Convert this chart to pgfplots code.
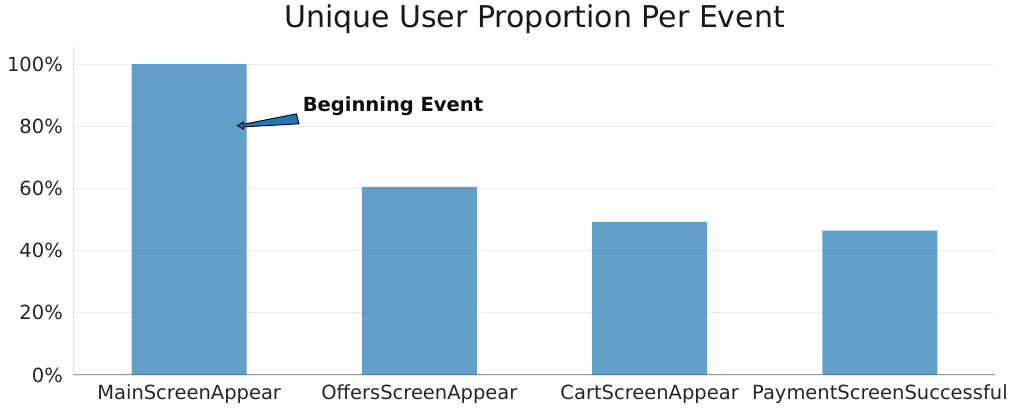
\documentclass[border=0pt]{standalone}
\usepackage{fontspec}
\setmainfont{DejaVu Sans}
\usepackage{pgfplots}
\pgfplotsset{compat=1.18}
\definecolor{barblue}{HTML}{1F77B4}
\definecolor{ticktext}{HTML}{262626}
\definecolor{gridc}{HTML}{EBEBEB}
\definecolor{leftspine}{HTML}{DDDDDD}
\definecolor{botspine}{HTML}{9A9A9A}
\begin{document}
\begin{tikzpicture}
\path[use as bounding box] (-74pt,-39pt) rectangle (939pt,375pt);
\begin{axis}[
  at={(0pt,0pt)}, anchor=south west,
  scale only axis, width=921pt, height=328pt,
  xmin=-0.5, xmax=3.5, ymin=0, ymax=105.5,
  ybar, bar width=0.5,
  xtick={0,1,2,3},
  xticklabels={MainScreenAppear,OffersScreenAppear,CartScreenAppear,PaymentScreenSuccessful},
  ytick={0,20,40,60,80,100},
  yticklabels={0\%,20\%,40\%,60\%,80\%,100\%},
  major tick length=0pt,
  ymajorgrids, grid style={gridc, line width=0.9pt},
  axis x line*=bottom, axis y line*=left,
  x axis line style={botspine, line width=1pt},
  y axis line style={leftspine, line width=1pt},
  tick label style={font=\fontsize{19.5}{23}\selectfont, text=ticktext},
  xticklabel style={anchor=base, yshift=-25pt, inner sep=0pt},
  yticklabel style={anchor=east, xshift=-11pt, inner sep=0pt},
  title={Unique User Proportion Per Event},
  title style={font=\fontsize{30}{36}\selectfont, anchor=base, at={(0.5,1)}, yshift=13pt, inner sep=0pt, text=black!90},
]
\addplot[fill=barblue, fill opacity=0.7, draw=none] coordinates {(0,100) (1,60.5) (2,49.2) (3,46.4)};
\draw[fill=barblue, draw=black, line width=0.9pt, line join=miter, shift={(axis cs:0.21,80.2)}]
  (0pt,0pt) -- (6pt,3.6pt) -- (6pt,1.4pt) -- (59pt,11.8pt) -- (61.5pt,1.8pt) -- (6pt,-1.2pt) -- (6pt,-3.4pt) -- cycle;
\node[anchor=base west, inner sep=0pt, font=\fontsize{19.5}{23}\selectfont\bfseries, text=black!95] at (axis cs:0.493,84.9) {Beginning Event};
\end{axis}
\end{tikzpicture}
\end{document}
